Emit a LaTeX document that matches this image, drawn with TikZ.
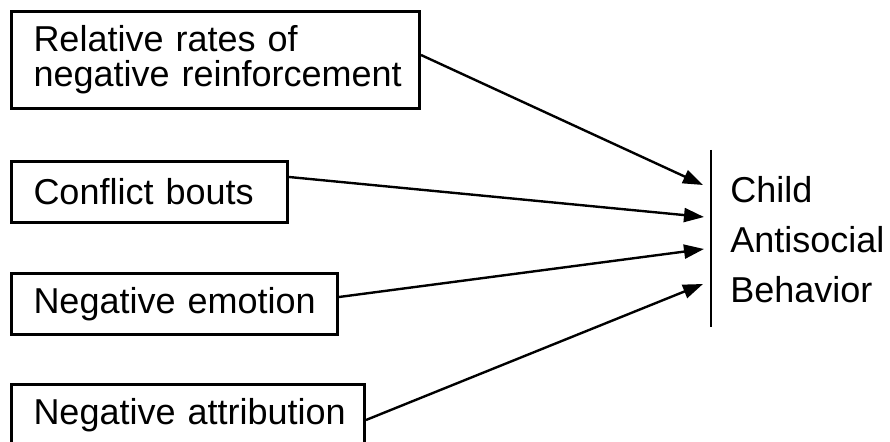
\documentclass[tikz,border=0pt]{standalone}
\usepackage{fontspec}
\setmainfont{Liberation Sans}
\usetikzlibrary{arrows.meta}
\begin{document}
\begin{tikzpicture}[x=0.5pt,y=-0.5pt,
  box/.style={draw,line width=1.5pt,anchor=north west,align=left,inner xsep=11pt,inner ysep=0pt,
    font=\fontsize{18}{17.5}\selectfont},
  arr/.style={line width=1.2pt,-{Triangle[length=10pt,width=7pt]}}]
\useasboundingbox (0,0) rectangle (890,442);
\node[box,text width=182pt,minimum height=48.5pt] (b1) at (10,10) {\mbox{Relative rates of}\\\mbox{negative reinforcement}};
\node[box,text width=116pt,minimum height=30.5pt] (b2) at (10,160) {\mbox{Conflict bouts}};
\node[box,text width=141pt,minimum height=30.5pt] (b3) at (10,272) {\mbox{Negative emotion}};
\node[box,text width=154.5pt,minimum height=30.5pt] (b4) at (10,383) {\mbox{Negative attribution}};
\node[anchor=north west,align=left,inner sep=0pt,font=\fontsize{18}{25}\selectfont] (cab) at (730,176) {Child\\Antisocial\\Behavior};
\coordinate (vt) at (711,150);
\coordinate (vb) at (711,327);
\draw[line width=1pt] (vt) -- (vb);
\coordinate (t1) at (703,185);
\coordinate (t2) at (704,217);
\coordinate (t3) at (704,249);
\coordinate (t4) at (703,284);
\draw[arr] ([yshift=-22.5pt]b1.north east) -- (t1);
\draw[arr] ([yshift=-8.5pt]b2.north east) -- (t2);
\draw[arr] ([yshift=-12.5pt]b3.north east) -- (t3);
\draw[arr] ([yshift=-18.5pt]b4.north east) -- (t4);
\end{tikzpicture}
\end{document}
